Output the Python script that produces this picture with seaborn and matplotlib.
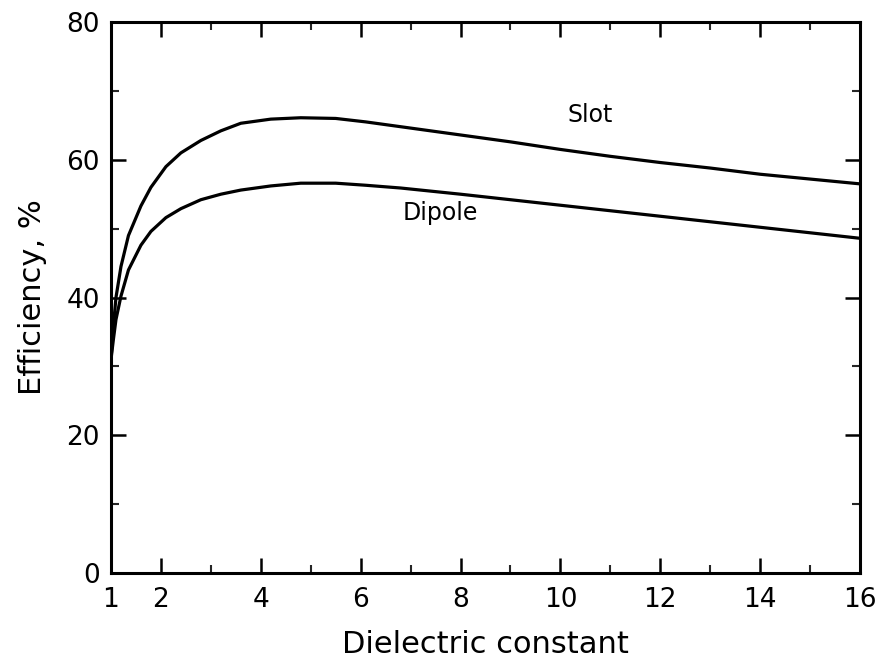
import matplotlib
matplotlib.use("Agg")
import matplotlib.pyplot as plt
import seaborn as sns
import pandas as pd
from matplotlib.ticker import MultipleLocator, FixedLocator

# Data
x_vals = [1.0, 1.05, 1.1, 1.2, 1.35, 1.6, 1.8, 2.1, 2.4, 2.8, 3.2, 3.6, 4.2, 4.8,
          5.5, 6.1, 6.8, 8, 9, 10, 11, 12, 13, 14, 15, 16]
slot = [31, 36, 40, 44.5, 49, 53.3, 56, 59, 61, 62.8, 64.2, 65.3, 65.9, 66.1,
        66.0, 65.5, 64.8, 63.6, 62.6, 61.5, 60.5, 59.6, 58.8, 57.9, 57.2, 56.5]
dipole = [31, 34, 36.8, 40.2, 44, 47.6, 49.6, 51.6, 52.9, 54.2, 55.0, 55.6, 56.2, 56.6,
          56.6, 56.3, 55.9, 55.0, 54.2, 53.4, 52.6, 51.8, 51.0, 50.2, 49.4, 48.6]
x_ticks = [1, 2, 4, 6, 8, 10, 12, 14, 16]
y_ticks = [0, 20, 40, 60, 80]

sns.set_style("ticks")
plt.rcParams['font.family'] = ['DejaVu Sans']
plt.rcParams['text.color'] = 'black'
plt.rcParams['axes.labelcolor'] = 'black'

df = pd.DataFrame({
    "x": x_vals * 2,
    "eff": slot + dipole,
    "series": ["Slot"] * len(x_vals) + ["Dipole"] * len(x_vals),
})

fig = plt.figure(figsize=(8.78, 6.65), dpi=100)
ax = fig.add_axes([0.1264, 0.1383, 0.8531, 0.8286])
sns.lineplot(data=df, x="x", y="eff", hue="series", palette=["black", "black"],
             linewidth=2.3, legend=False, ax=ax, estimator=None, sort=True,
             solid_joinstyle="round", solid_capstyle="round")

ax.set_xlim(1, 16)
ax.set_ylim(0, 80)
ax.xaxis.set_major_locator(FixedLocator(x_ticks))
ax.xaxis.set_minor_locator(FixedLocator([3, 5, 7, 9, 11, 13, 15]))
ax.yaxis.set_major_locator(FixedLocator(y_ticks))
ax.yaxis.set_minor_locator(MultipleLocator(10))
ax.set_xticklabels([str(v) for v in x_ticks])
ax.set_yticklabels([str(v) for v in y_ticks])

for s in ax.spines.values():
    s.set_visible(True)
    s.set_linewidth(2.2)
    s.set_color("black")

ax.tick_params(which="major", direction="in", length=11, width=1.8,
               top=True, right=True, labelsize=19, pad=8, colors="black")
ax.tick_params(which="minor", direction="in", length=6, width=1.5,
               top=True, right=True)
ax.tick_params(axis="x", which="major", pad=10)

ax.set_xlabel("Dielectric constant", fontsize=22, labelpad=12)
ax.set_ylabel("Efficiency, %", fontsize=22, labelpad=14)

ax.text(10.6, 66.5, "Slot", fontsize=17, ha="center", va="center")
ax.text(7.6, 52.3, "Dipole", fontsize=17, ha="center", va="center")

fig.savefig("out.png", dpi=100)
